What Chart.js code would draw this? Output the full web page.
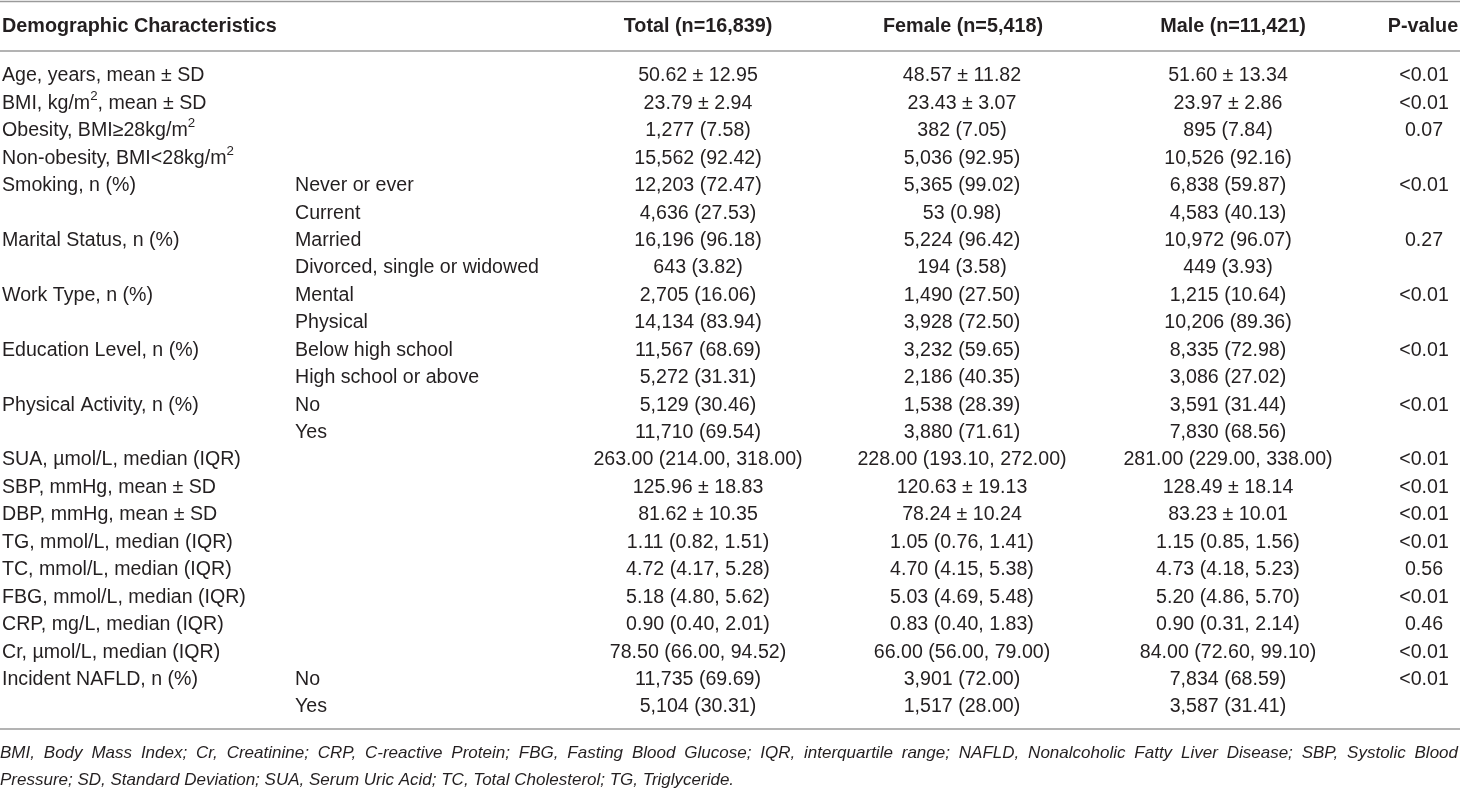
<!DOCTYPE html>
<html>
<head>
<meta charset="utf-8">
<script src="https://cdn.jsdelivr.net/npm/chart.js@4.4.1/dist/chart.umd.min.js"></script>
<style>
html,body{margin:0;padding:0;background:#fff;}
#wrap{width:1460px;height:788px;position:relative;}
</style>
</head>
<body>
<div id="wrap"><canvas id="c" width="1460" height="788"></canvas></div>
<script>
// ---- DATA ----
const headers = ["Demographic Characteristics", "", "Total (n=16,839)", "Female (n=5,418)", "Male (n=11,421)", "P-value"];
const characteristics = [
  "Age, years, mean \u00b1 SD", "BMI, kg/m\u00b2, mean \u00b1 SD", "Obesity, BMI\u226528kg/m\u00b2", "Non-obesity, BMI<28kg/m\u00b2",
  "Smoking, n (%)", "", "Marital Status, n (%)", "", "Work Type, n (%)", "", "Education Level, n (%)", "",
  "Physical Activity, n (%)", "", "SUA, \u00b5mol/L, median (IQR)", "SBP, mmHg, mean \u00b1 SD", "DBP, mmHg, mean \u00b1 SD",
  "TG, mmol/L, median (IQR)", "TC, mmol/L, median (IQR)", "FBG, mmol/L, median (IQR)", "CRP, mg/L, median (IQR)",
  "Cr, \u00b5mol/L, median (IQR)", "Incident NAFLD, n (%)", ""
];
const subgroups = [
  "", "", "", "", "Never or ever", "Current", "Married", "Divorced, single or widowed", "Mental", "Physical",
  "Below high school", "High school or above", "No", "Yes", "", "", "", "", "", "", "", "", "No", "Yes"
];
const totalValues = [
  "50.62 \u00b1 12.95", "23.79 \u00b1 2.94", "1,277 (7.58)", "15,562 (92.42)", "12,203 (72.47)", "4,636 (27.53)",
  "16,196 (96.18)", "643 (3.82)", "2,705 (16.06)", "14,134 (83.94)", "11,567 (68.69)", "5,272 (31.31)",
  "5,129 (30.46)", "11,710 (69.54)", "263.00 (214.00, 318.00)", "125.96 \u00b1 18.83", "81.62 \u00b1 10.35",
  "1.11 (0.82, 1.51)", "4.72 (4.17, 5.28)", "5.18 (4.80, 5.62)", "0.90 (0.40, 2.01)", "78.50 (66.00, 94.52)",
  "11,735 (69.69)", "5,104 (30.31)"
];
const femaleValues = [
  "48.57 \u00b1 11.82", "23.43 \u00b1 3.07", "382 (7.05)", "5,036 (92.95)", "5,365 (99.02)", "53 (0.98)",
  "5,224 (96.42)", "194 (3.58)", "1,490 (27.50)", "3,928 (72.50)", "3,232 (59.65)", "2,186 (40.35)",
  "1,538 (28.39)", "3,880 (71.61)", "228.00 (193.10, 272.00)", "120.63 \u00b1 19.13", "78.24 \u00b1 10.24",
  "1.05 (0.76, 1.41)", "4.70 (4.15, 5.38)", "5.03 (4.69, 5.48)", "0.83 (0.40, 1.83)", "66.00 (56.00, 79.00)",
  "3,901 (72.00)", "1,517 (28.00)"
];
const maleValues = [
  "51.60 \u00b1 13.34", "23.97 \u00b1 2.86", "895 (7.84)", "10,526 (92.16)", "6,838 (59.87)", "4,583 (40.13)",
  "10,972 (96.07)", "449 (3.93)", "1,215 (10.64)", "10,206 (89.36)", "8,335 (72.98)", "3,086 (27.02)",
  "3,591 (31.44)", "7,830 (68.56)", "281.00 (229.00, 338.00)", "128.49 \u00b1 18.14", "83.23 \u00b1 10.01",
  "1.15 (0.85, 1.56)", "4.73 (4.18, 5.23)", "5.20 (4.86, 5.70)", "0.90 (0.31, 2.14)", "84.00 (72.60, 99.10)",
  "7,834 (68.59)", "3,587 (31.41)"
];
const pValues = [
  "<0.01", "<0.01", "0.07", "", "<0.01", "", "0.27", "", "<0.01", "", "<0.01", "", "<0.01", "",
  "<0.01", "<0.01", "<0.01", "<0.01", "0.56", "<0.01", "0.46", "<0.01", "<0.01", ""
];
const footnoteLines = [
  "BMI, Body Mass Index; Cr, Creatinine; CRP, C-reactive Protein; FBG, Fasting Blood Glucose; IQR, interquartile range; NAFLD, Nonalcoholic Fatty Liver Disease; SBP, Systolic Blood",
  "Pressure; SD, Standard Deviation; SUA, Serum Uric Acid; TC, Total Cholesterol; TG, Triglyceride."
];

// ---- LAYOUT (style, not data) ----
const columns = [
  {values: characteristics, x: 2,    align: "left"},
  {values: subgroups,       x: 295,  align: "left"},
  {values: totalValues,     x: 698,  align: "center"},
  {values: femaleValues,    x: 962,  align: "center"},
  {values: maleValues,      x: 1228, align: "center"},
  {values: pValues,         x: 1424, align: "center"}
];
const headerX = [2, 295, 698, 963, 1233, 1423];
const FONT = "Liberation Sans, Arial, Helvetica, sans-serif";
const TEXT = "#231f20";
const RULE = "#9a9a9a";

function drawRich(ctx, text, x, y, align, size, weight, style) {
  const main = `${style||"normal"} ${weight||"normal"} ${size}px ${FONT}`;
  const sup = `${style||"normal"} ${weight||"normal"} ${size*0.68}px ${FONT}`;
  const parts = text.split("\u00b2");
  let w = 0;
  const segs = [];
  parts.forEach((p, i) => {
    ctx.font = main; const pw = ctx.measureText(p).width; segs.push({t:p, w:pw, sup:false}); w += pw;
    if (i < parts.length - 1) { ctx.font = sup; const sw = ctx.measureText("2").width; segs.push({t:"2", w:sw, sup:true}); w += sw; }
  });
  let cx = align === "center" ? x - w/2 : (align === "right" ? x - w : x);
  ctx.textAlign = "left";
  ctx.textBaseline = "middle";
  segs.forEach(s => {
    ctx.font = s.sup ? sup : main;
    ctx.fillText(s.t, cx, s.sup ? y - size*0.36 : y);
    cx += s.w;
  });
}

const tablePlugin = {
  id: "tablePlugin",
  afterDraw(chart) {
    const ctx = chart.ctx;
    const xs = chart.scales.x, ys = chart.scales.y;
    ctx.save();
    ctx.fillStyle = TEXT;
    // rules
    ctx.strokeStyle = RULE;
    ctx.lineWidth = 1.6;
    [1.5, 51, 729].forEach(yy => { ctx.beginPath(); ctx.moveTo(0, yy); ctx.lineTo(1460, yy); ctx.stroke(); });
    // header
    headers.forEach((h, i) => {
      if (!h) return;
      drawRich(ctx, h, xs.getPixelForValue(headerX[i]), 27, i === 0 ? "left" : "center", 19.8, "bold");
    });
    // body cells
    columns.forEach(col => {
      col.values.forEach((v, r) => {
        if (!v) return;
        drawRich(ctx, v, xs.getPixelForValue(col.x), ys.getPixelForValue(r) - 1, col.align, 19.6, "normal");
      });
    });
    // footnote: first line justified to the full width
    ctx.textBaseline = "middle";
    ctx.textAlign = "left";
    const fsize = 17;
    ctx.font = `italic normal ${fsize}px ${FONT}`;
    const words = footnoteLines[0].split(" ");
    const natural = words.reduce((a, w) => a + ctx.measureText(w).width, 0);
    const gap = (1458 - natural) / (words.length - 1);
    let fx = 0;
    words.forEach(w => { ctx.fillText(w, fx, 753); fx += ctx.measureText(w).width + gap; });
    ctx.fillText(footnoteLines[1], 0, 780);
    ctx.restore();
  }
};

const rowCount = characteristics.length;
new Chart(document.getElementById("c"), {
  type: "scatter",
  data: { datasets: [{ data: characteristics.map((c, i) => ({x: 0, y: i})), pointRadius: 0, showLine: false }] },
  options: {
    responsive: false,
    animation: false,
    devicePixelRatio: 1,
    layout: { padding: { top: 63.3, bottom: 788 - 721.7, left: 0, right: 0 } },
    plugins: { legend: { display: false }, tooltip: { enabled: false } },
    events: [],
    scales: {
      x: { type: "linear", min: 0, max: 1460, display: false },
      y: { type: "linear", min: -0.5, max: rowCount - 0.5, reverse: true, display: false }
    }
  },
  plugins: [tablePlugin]
});
</script>
</body>
</html>
